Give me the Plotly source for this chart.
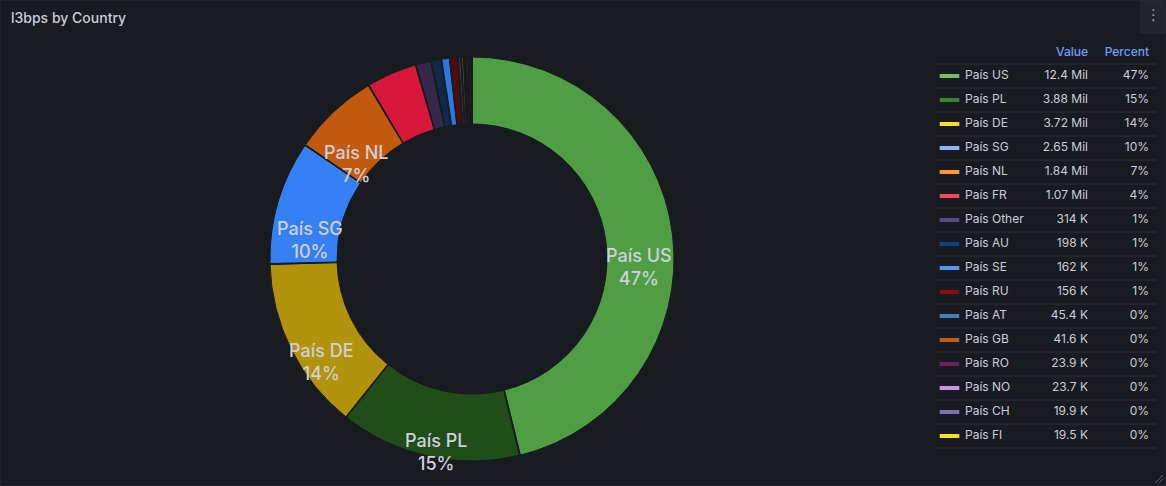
import math
import plotly.graph_objects as go

# ----- Data -----
countries = ["País US", "País PL", "País DE", "País SG", "País NL", "País FR",
             "País Other", "País AU", "País SE", "País RU", "País AT", "País GB",
             "País RO", "País NO", "País CH", "País FI"]
values = [12.4e6, 3.88e6, 3.72e6, 2.65e6, 1.84e6, 1.07e6,
          314e3, 198e3, 162e3, 156e3, 45.4e3, 41.6e3,
          23.9e3, 23.7e3, 19.9e3, 19.5e3]

# slice colours (as rendered, shaded) and legend colours
slice_colors = ["#4f9e44", "#214d1b", "#b3920c", "#3680f5", "#c25a0c", "#d8183a",
                "#352848", "#0e2a4b", "#2a78e0", "#520a0a", "#1c4a78", "#7a3a10",
                "#4a1545", "#8a6aa0", "#4a3d6e", "#b09a20"]
legend_colors = ["#73BF69", "#37872D", "#FADE2A", "#8AB8FF", "#FF9830", "#F2495C",
                 "#5a4a7e", "#0A437C", "#5794F2", "#890F02", "#447EBC", "#C15C17",
                 "#6D1F62", "#CA95E5", "#806EB7", "#FADE2A"]

total = sum(values)


def fmt_value(v):
    if v >= 1e6:
        return f"{v / 1e6:.3g} Mil"
    return f"{v / 1e3:.3g} K"


value_text = [fmt_value(v) for v in values]
percent_text = [f"{round(v / total * 100)}%" for v in values]

# ----- Layout constants (pixels) -----
W, H = 1166, 486
BG = "#181b1f"
TXT = "#ccccdc"
ROW0, ROW_H = 76, 24
CX, CY, R_OUT, R_IN = 472, 259, 202, 135
PAD_DEG = 0.27  # angular padding between slices, like the d3 pie padAngle
rows = list(range(len(countries)))
pie_domain = dict(x=[(CX - R_OUT) / W, (CX + R_OUT) / W],
                  y=[1 - (CY + R_OUT) / H, 1 - (CY - R_OUT) / H])

# interleave thin background-coloured pad slices between the real ones
n = len(values)
pad_value = total * PAD_DEG / (360 - n * PAD_DEG)
pie_labels, pie_values, pie_colors, pie_hover = [], [], [], []
for i, (name, v, c) in enumerate(zip(countries, values, slice_colors)):
    pie_labels += [name, f"pad{i}"]
    pie_values += [v, pad_value]
    pie_colors += [c, BG]
    pie_hover += ["%{label}: %{value:.3s}<extra></extra>", "<extra></extra>"]

fig = go.Figure()

# Donut
fig.add_trace(go.Pie(
    labels=pie_labels,
    values=pie_values,
    sort=False,
    direction="clockwise",
    rotation=PAD_DEG / 2,
    hole=R_IN / R_OUT,
    marker=dict(colors=pie_colors, line=dict(color=BG, width=1)),
    textinfo="none",
    hovertemplate=pie_hover,
    domain=pie_domain,
    showlegend=False,
))

# Slice labels: text hangs below each slice centroid (ring middle, mid angle)
annotations = []
r_mid = (R_IN + R_OUT) / 2
k = (360 - n * PAD_DEG) / total
acc = 0.0
for name, v in zip(countries, values):
    if v / total >= 0.05:
        a = math.radians(acc + k * v / 2)
        annotations.append(dict(
            text=f"{name}<br>{round(v / total * 100)}%",
            xref="paper", yref="paper",
            x=(CX + r_mid * math.sin(a)) / W,
            y=1 - (CY - r_mid * math.cos(a)) / H,
            xanchor="center", yanchor="top", yshift=-4, showarrow=False,
            font=dict(family="Inter", size=18, color="#cfd0dc", weight=500)))
    acc += k * v + PAD_DEG

# Legend table drawn on a hidden pixel-scaled axis; y = row index
fig.add_trace(go.Scatter(
    x=[949.5] * len(rows), y=rows, mode="markers",
    marker=dict(symbol="line-ew", size=14,
                line=dict(color=legend_colors, width=4)),
    showlegend=False, hoverinfo="skip",
))
fig.add_trace(go.Scatter(
    x=[965] * len(rows), y=rows, mode="text", text=countries,
    textposition="middle right",
    textfont=dict(family="Inter", size=12, color=TXT),
    showlegend=False, hoverinfo="skip",
))
fig.add_trace(go.Scatter(
    x=[1088] * len(rows), y=rows, mode="text", text=value_text,
    textposition="middle left",
    textfont=dict(family="Inter", size=12, color=TXT),
    showlegend=False, hoverinfo="skip",
))
fig.add_trace(go.Scatter(
    x=[1149] * len(rows), y=rows, mode="text", text=percent_text,
    textposition="middle left",
    textfont=dict(family="Inter", size=12, color=TXT),
    showlegend=False, hoverinfo="skip",
))
# header
fig.add_trace(go.Scatter(
    x=[1088, 1149], y=[-0.97, -0.97], mode="text", text=["Value", "Percent"],
    textposition="middle left",
    textfont=dict(family="Inter", size=12, color="#6e9fff", weight=500),
    showlegend=False, hoverinfo="skip",
))

shapes = []
for i in range(-1, len(rows)):
    shapes.append(dict(type="line", xref="x", yref="y", x0=935, x1=1157,
                       y0=i + 0.5, y1=i + 0.5,
                       line=dict(color="#2c3036", width=1)))
# panel border
shapes.append(dict(type="rect", xref="paper", yref="paper", x0=0, x1=1, y0=0, y1=1,
                   line=dict(color="#2b2e34", width=1)))
# menu button
shapes.append(dict(type="rect", xref="x", yref="y",
                   x0=1141, x1=1166,
                   y0=(0 - ROW0) / ROW_H, y1=(33 - ROW0) / ROW_H,
                   fillcolor="#22252b", line=dict(color="#2b2e34", width=1)))
# resize handle
for d in (4, 8):
    shapes.append(dict(type="line", xref="x", yref="y",
                       x0=W - 3 - d, x1=W - 3,
                       y0=(H - 3 - ROW0) / ROW_H, y1=(H - 3 - d - ROW0) / ROW_H,
                       line=dict(color="#5a5e66", width=1)))

annotations += [
    dict(text="l3bps by Country", xref="paper", yref="paper",
         x=9 / W, y=1 - 18 / H, xanchor="left", yanchor="middle",
         showarrow=False,
         font=dict(family="Inter", size=14, color=TXT, weight=500)),
    dict(text="⋮", xref="paper", yref="paper",
         x=1153 / W, y=1 - 15 / H, xanchor="center", yanchor="middle",
         showarrow=False, font=dict(family="DejaVu Sans", size=15, color="#9fa3ab")),
]

fig.update_layout(
    width=W, height=H,
    margin=dict(l=0, r=0, t=0, b=0),
    paper_bgcolor=BG,
    plot_bgcolor=BG,
    xaxis=dict(range=[0, W], visible=False, fixedrange=True, domain=[0, 1]),
    yaxis=dict(range=[(H - ROW0) / ROW_H, (0 - ROW0) / ROW_H],
               visible=False, fixedrange=True, domain=[0, 1]),
    shapes=shapes,
    annotations=annotations,
)

fig.write_html("out.html", config={"displayModeBar": False},
               post_script="document.body.style.margin='0';")
